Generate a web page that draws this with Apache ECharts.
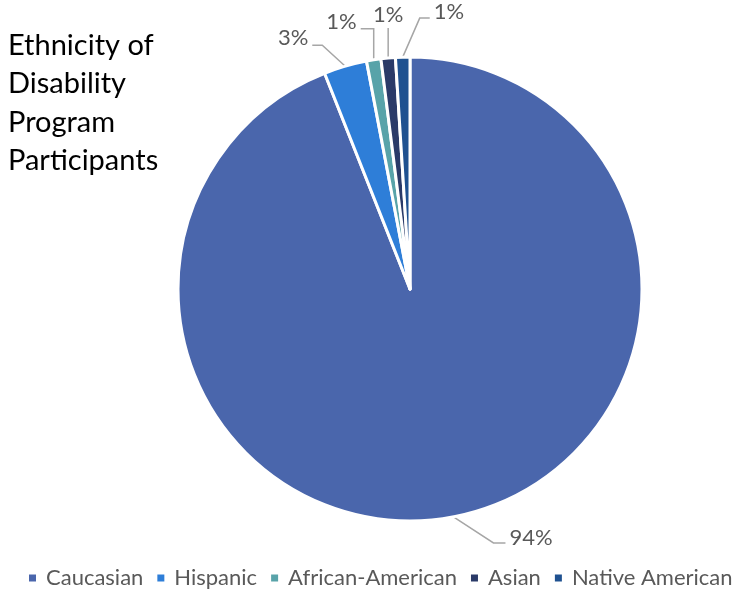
<!DOCTYPE html>
<html>
<head>
<meta charset="utf-8">
<script src="https://cdn.jsdelivr.net/npm/echarts@6/dist/echarts.min.js"></script>
<style>
  html, body { margin: 0; padding: 0; background: #fff; }
  #chart { width: 744px; height: 591px; }
</style>
</head>
<body>
<div id="chart"></div>
<script>
// categories and shares (%)
var categories = ['Caucasian', 'Hispanic', 'African-American', 'Asian', 'Native American'];
var shares = [94, 3, 1, 1, 1];
var colors = ['#4a66ac', '#2e7ed8', '#58a3a9', '#2a3a68', '#1f5190'];

// leader line shape per slice, relative to the slice edge point:
// [elbow dx, elbow dy, horizontal run, label dy]
var leaders = [
  [40, 26, 12, -5],
  [-23, -21, -10, -7],
  [0, -31, -13, -7],
  [0, -30, 0, -13],
  [17, -39, 10, -6]
];

var pieData = [];
for (var i = 0; i < categories.length; i++) {
  pieData.push({ name: categories[i], value: shares[i], itemStyle: { color: colors[i] } });
}

var chart = echarts.init(document.getElementById('chart'));
chart.setOption({
  animation: false,
  textStyle: { fontFamily: 'Lato, sans-serif' },
  title: {
    text: 'Ethnicity of\nDisability\nProgram\nParticipants',
    left: 8,
    top: 26,
    padding: 0,
    textStyle: { fontSize: 29, fontWeight: 'normal', color: '#000', lineHeight: 38.5, fontFamily: 'Lato, sans-serif' }
  },
  legend: {
    top: 562,
    left: 22,
    icon: 'rect',
    itemWidth: 9,
    itemHeight: 9,
    itemGap: 12,
    textStyle: { fontSize: 22, color: '#595959', padding: [0, 0, 0, 4] },
    data: categories
  },
  series: [{
    type: 'pie',
    center: [410, 289],
    radius: [0, 232],
    startAngle: 90,
    clockwise: true,
    avoidLabelOverlap: false,
    itemStyle: { borderColor: '#fff', borderWidth: 3 },
    label: {
      show: true,
      position: 'outside',
      formatter: '{d}%',
      fontSize: 22,
      color: '#595959'
    },
    labelLine: {
      show: true,
      length: 20,
      length2: 10,
      lineStyle: { color: '#a6a6a6', width: 1.5 }
    },
    labelLayout: function (params) {
      var L = leaders[params.dataIndex];
      var p0 = params.labelLinePoints[0];
      var p1 = [p0[0] + L[0], p0[1] + L[1]];
      var p2 = [p1[0] + L[2], p1[1]];
      var align = L[2] > 0 ? 'left' : (L[2] < 0 ? 'right' : 'center');
      var gap = L[2] > 0 ? 4 : (L[2] < 0 ? -4 : 0);
      return {
        x: p2[0] + gap,
        y: p2[1] + L[3],
        align: align,
        verticalAlign: 'middle',
        labelLinePoints: [p0, p1, p2]
      };
    },
    emphasis: { disabled: true },
    data: pieData
  }]
});
</script>
</body>
</html>
